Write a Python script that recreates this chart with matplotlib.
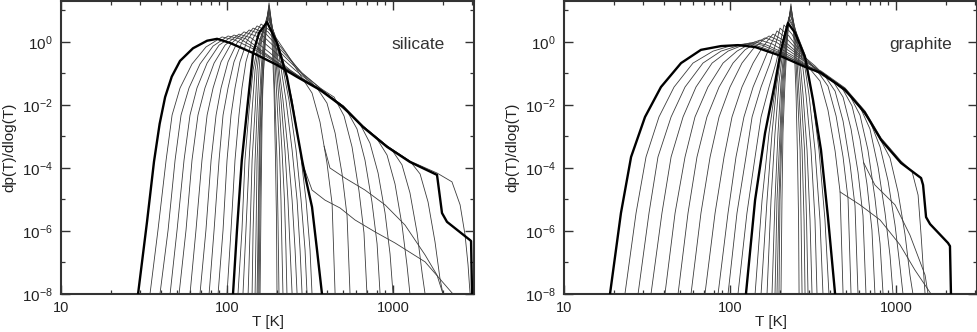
import numpy as np
import matplotlib
matplotlib.use("Agg")
import matplotlib.pyplot as plt

plt.rcParams["font.family"] = ["Liberation Sans", "DejaVu Sans"]
plt.rcParams["mathtext.fontset"] = "custom"
plt.rcParams["mathtext.rm"] = "Liberation Sans"
plt.rcParams["mathtext.default"] = "regular"

# curves as (log10 T [K], log10 dp/dlogT) points

# ---------------- silicate ----------------
sil_thick_broad = [(1.464, -8.0), (1.518, -5.71), (1.560, -3.80), (1.594, -2.60), (1.627, -1.75),
                   (1.667, -1.10), (1.717, -0.60), (1.795, -0.20), (1.880, 0.04), (1.940, 0.10), (2.018, -0.03),
                   (2.157, -0.35), (2.301, -0.73), (2.422, -1.11), (2.560, -1.52), (2.699, -2.06),
                   (2.819, -2.70), (2.964, -3.33), (3.102, -3.81), (3.265, -4.22), (3.295, -5.43),
                   (3.325, -5.71), (3.464, -6.29), (3.470, -6.32), (3.476, -8.0)]
sil_thick_narrow = [(2.036, -8.0), (2.060, -5.97), (2.089, -3.75), (2.127, -1.84), (2.157, -0.35),
                    (2.193, 0.29), (2.241, 0.63), (2.301, -0.03), (2.361, -1.11), (2.398, -2.16),
                    (2.452, -3.75), (2.476, -4.38), (2.512, -5.24), (2.542, -6.60), (2.572, -8.0)]

sil_k1 = [(1.536, -8.0), (1.584, -5.97), (1.633, -3.75), (1.669, -2.32), (1.717, -1.46), (1.789, -0.70),
          (1.873, -0.16), (1.970, 0.16), (2.048, 0.06), (2.169, -0.25), (2.301, -0.67), (2.422, -1.08),
          (2.560, -1.49), (2.699, -2.03), (2.819, -2.67), (2.964, -3.30), (3.102, -3.78), (3.265, -4.16),
          (3.355, -4.44), (3.404, -5.17), (3.434, -6.13), (3.452, -7.08), (3.464, -8.0)]
sil_k2 = [(1.596, -8.0), (1.645, -5.97), (1.687, -3.75), (1.723, -2.32), (1.771, -1.46), (1.837, -0.70),
          (1.916, -0.13), (2.006, 0.19), (2.078, 0.10), (2.187, -0.25), (2.319, -0.70), (2.440, -1.11),
          (2.560, -1.49), (2.699, -2.03), (2.819, -2.67), (2.964, -3.30), (3.102, -3.78), (3.163, -4.19),
          (3.211, -5.08), (3.253, -6.35), (3.283, -7.52), (3.301, -8.0)]
sil_k3 = [(1.657, -8.0), (1.699, -5.97), (1.741, -3.75), (1.777, -2.32), (1.819, -1.46), (1.880, -0.67),
          (1.952, -0.10), (2.042, 0.22), (2.114, 0.10), (2.229, -0.35), (2.349, -0.83), (2.470, -1.24),
          (2.560, -1.49), (2.699, -2.03), (2.819, -2.67), (2.994, -3.43), (3.054, -3.90), (3.102, -4.79),
          (3.145, -6.06), (3.175, -7.33), (3.193, -8.0)]
sil_k4 = [(1.711, -8.0), (1.753, -5.97), (1.789, -3.75), (1.825, -2.32), (1.867, -1.46), (1.922, -0.67),
          (1.988, -0.10), (2.072, 0.25), (2.145, 0.13), (2.259, -0.35), (2.380, -0.89), (2.500, -1.33),
          (2.620, -1.75), (2.741, -2.29), (2.904, -3.08), (2.964, -3.59), (3.012, -4.51), (3.054, -5.81),
          (3.084, -7.08), (3.102, -8.0)]
sil_k5 = [(1.777, -8.0), (1.813, -5.97), (1.849, -3.75), (1.880, -2.32), (1.916, -1.46), (1.964, -0.63),
          (2.024, -0.06), (2.102, 0.32), (2.175, 0.19), (2.289, -0.32), (2.410, -0.89), (2.530, -1.40),
          (2.651, -1.87), (2.801, -2.60), (2.861, -3.21), (2.910, -4.16), (2.952, -5.43), (2.982, -6.73),
          (3.000, -8.0)]
sil_k6 = [(1.837, -8.0), (1.873, -5.97), (1.904, -3.75), (1.934, -2.32), (1.964, -1.46), (2.006, -0.63),
          (2.060, -0.03), (2.133, 0.38), (2.205, 0.25), (2.319, -0.32), (2.440, -0.95), (2.560, -1.46),
          (2.723, -2.19), (2.783, -2.76), (2.831, -3.75), (2.873, -5.08), (2.904, -6.41), (2.922, -8.0)]
sil_k7 = [(1.892, -8.0), (1.922, -5.97), (1.952, -3.75), (1.976, -2.32), (2.006, -1.46), (2.042, -0.63),
          (2.090, 0.0), (2.157, 0.44), (2.229, 0.29), (2.337, -0.32), (2.452, -0.98), (2.560, -1.46),
          (2.645, -1.75), (2.705, -2.35), (2.753, -3.33), (2.795, -4.73), (2.825, -6.06), (2.843, -8.0)]
sil_k8 = [(1.946, -8.0), (1.976, -5.97), (2.000, -3.75), (2.024, -2.32), (2.048, -1.46), (2.078, -0.63),
          (2.120, 0.03), (2.181, 0.51), (2.247, 0.32), (2.349, -0.32), (2.452, -1.02), (2.542, -1.46),
          (2.602, -1.94), (2.651, -2.89), (2.693, -4.19), (2.723, -5.52), (2.741, -8.0)]
sil_k9 = [(2.000, -8.0), (2.024, -5.97), (2.048, -3.75), (2.072, -2.32), (2.090, -1.46), (2.114, -0.63),
          (2.151, 0.06), (2.205, 0.57), (2.271, 0.32), (2.361, -0.38), (2.452, -1.14), (2.512, -1.62),
          (2.560, -2.54), (2.602, -3.84), (2.633, -5.14), (2.651, -8.0)]
sil_n1 = [(2.066, -8.0), (2.090, -5.97), (2.108, -3.75), (2.133, -2.16), (2.157, -0.89), (2.187, -0.10),
          (2.217, 0.38), (2.247, 0.73), (2.289, 0.22), (2.337, -0.57), (2.392, -1.84), (2.440, -3.43),
          (2.476, -5.02), (2.500, -6.60), (2.512, -8.0)]
sil_n2 = [(2.096, -8.0), (2.114, -5.97), (2.133, -3.75), (2.151, -2.16), (2.169, -0.89), (2.193, -0.10),
          (2.217, 0.38), (2.247, 0.79), (2.283, 0.29), (2.325, -0.51), (2.373, -1.84), (2.416, -3.43),
          (2.446, -5.02), (2.470, -6.60), (2.482, -8.0)]
sil_n3 = [(2.127, -8.0), (2.139, -5.97), (2.151, -3.75), (2.169, -2.16), (2.181, -0.89), (2.199, -0.10),
          (2.223, 0.44), (2.247, 0.86), (2.277, 0.38), (2.313, -0.41), (2.355, -1.84), (2.392, -3.43),
          (2.422, -5.02), (2.440, -6.60), (2.452, -8.0)]
sil_n4 = [(2.151, -8.0), (2.157, -5.97), (2.169, -3.75), (2.181, -2.16), (2.193, -0.89), (2.205, -0.10),
          (2.223, 0.44), (2.247, 0.92), (2.271, 0.44), (2.301, -0.32), (2.337, -1.84), (2.367, -3.43),
          (2.392, -5.02), (2.410, -6.60), (2.422, -8.0)]
sil_n5 = [(2.169, -8.0), (2.175, -5.97), (2.181, -3.75), (2.193, -2.16), (2.205, -0.89), (2.217, -0.10),
          (2.229, 0.44), (2.250, 0.98), (2.271, 0.54), (2.295, -0.25), (2.325, -1.84), (2.349, -3.43),
          (2.367, -5.02), (2.380, -6.60), (2.392, -8.0)]
sil_n6 = [(2.181, -8.0), (2.187, -5.97), (2.193, -3.75), (2.199, -2.16), (2.211, -0.89), (2.223, -0.10),
          (2.235, 0.44), (2.250, 1.05), (2.268, 0.63), (2.289, -0.19), (2.313, -1.84), (2.331, -3.43),
          (2.346, -5.02), (2.355, -6.60), (2.361, -8.0)]
sil_n7 = [(2.187, -8.0), (2.193, -5.02), (2.199, -3.11), (2.205, -1.84), (2.217, -0.57), (2.229, 0.22),
          (2.241, 0.70), (2.253, 1.11), (2.265, 0.70), (2.283, -0.10), (2.301, -1.84), (2.316, -3.43),
          (2.325, -5.02), (2.331, -6.60), (2.337, -8.0)]
sil_n8 = [(2.193, -8.0), (2.199, -5.02), (2.205, -3.11), (2.211, -1.84), (2.223, -0.57), (2.232, 0.22),
          (2.244, 0.76), (2.253, 1.17), (2.265, 0.76), (2.277, 0.0), (2.289, -1.84), (2.301, -3.75),
          (2.307, -5.65), (2.313, -8.0)]
sil_spike = [(2.199, -8.0), (2.205, -5.02), (2.211, -2.48), (2.217, -1.21), (2.229, -0.10), (2.241, 0.70),
             (2.253, 1.24), (2.262, 0.86), (2.271, 0.06), (2.283, -1.52), (2.292, -3.75), (2.298, -5.65),
             (2.301, -8.0)]
# long low tails below the power-law envelope
sil_tail_a = [(2.458, -3.91), (2.512, -4.70), (2.590, -5.02), (2.681, -5.27), (2.771, -5.65),
              (2.892, -6.03), (3.012, -6.38), (3.193, -6.98), (3.361, -8.0)]
sil_tail_b = [(2.585, -3.31), (2.620, -4.0), (2.711, -4.32), (2.831, -4.70), (2.952, -5.17),
              (3.072, -5.81), (3.193, -6.76), (3.265, -7.40), (3.301, -8.0)]

# ---------------- graphite ----------------
gra_thick_broad = [(1.277, -8.0), (1.343, -5.43), (1.404, -3.65), (1.488, -2.38), (1.584, -1.43),
                   (1.705, -0.67), (1.825, -0.25), (1.946, -0.13), (2.048, -0.10), (2.151, -0.16),
                   (2.289, -0.41), (2.452, -0.79), (2.548, -0.98), (2.693, -1.52), (2.813, -2.25),
                   (2.910, -3.11), (3.030, -3.84), (3.151, -4.32), (3.163, -4.54), (3.181, -5.56),
                   (3.205, -5.78), (3.313, -6.38), (3.325, -6.48), (3.331, -8.0)]
gra_thick_narrow = [(2.096, -8.0), (2.151, -5.02), (2.211, -2.89), (2.271, -1.30), (2.307, -0.25),
                    (2.349, 0.60), (2.392, 0.29), (2.452, -0.48), (2.500, -1.84), (2.548, -3.43),
                    (2.590, -5.56), (2.633, -8.0)]

gra_k1 = [(1.367, -8.0), (1.434, -5.43), (1.494, -3.65), (1.572, -2.38), (1.663, -1.43), (1.777, -0.67),
          (1.898, -0.29), (2.000, -0.13), (2.090, -0.06), (2.151, -0.10), (2.289, -0.35), (2.452, -0.73),
          (2.548, -0.92), (2.693, -1.46), (2.813, -2.19), (2.910, -3.05), (3.030, -3.78), (3.096, -4.10),
          (3.133, -4.86), (3.151, -6.13), (3.163, -7.08), (3.175, -8.0)]
gra_k2 = [(1.446, -8.0), (1.512, -5.43), (1.566, -3.65), (1.645, -2.38), (1.729, -1.43), (1.837, -0.67),
          (1.946, -0.29), (2.042, -0.13), (2.120, -0.03), (2.193, -0.10), (2.331, -0.41), (2.452, -0.76),
          (2.548, -0.95), (2.693, -1.49), (2.813, -2.22), (2.904, -3.08), (2.964, -3.68), (3.012, -4.76),
          (3.054, -6.10), (3.084, -7.40), (3.102, -8.0)]
gra_k3 = [(1.524, -8.0), (1.590, -5.43), (1.645, -3.65), (1.717, -2.38), (1.795, -1.43), (1.892, -0.67),
          (1.988, -0.29), (2.078, -0.10), (2.151, 0.0), (2.223, -0.10), (2.361, -0.44), (2.482, -0.83),
          (2.602, -1.17), (2.723, -1.68), (2.843, -2.51), (2.904, -3.33), (2.952, -4.41), (2.994, -5.81),
          (3.024, -7.14), (3.042, -8.0)]
gra_k4 = [(1.608, -8.0), (1.669, -5.43), (1.729, -3.65), (1.789, -2.38), (1.867, -1.43), (1.958, -0.67),
          (2.042, -0.29), (2.120, -0.06), (2.181, 0.06), (2.253, -0.06), (2.380, -0.44), (2.494, -0.86),
          (2.602, -1.21), (2.693, -1.52), (2.783, -2.06), (2.843, -2.76), (2.892, -3.97), (2.934, -5.43),
          (2.964, -6.79), (2.982, -8.0)]
gra_k5 = [(1.687, -8.0), (1.747, -5.43), (1.801, -3.65), (1.861, -2.38), (1.934, -1.43), (2.018, -0.67),
          (2.090, -0.25), (2.157, -0.03), (2.211, 0.13), (2.277, 0.0), (2.392, -0.41), (2.512, -0.83),
          (2.633, -1.30), (2.723, -1.71), (2.783, -2.32), (2.831, -3.43), (2.873, -4.95), (2.904, -6.41),
          (2.922, -8.0)]
gra_k6 = [(1.765, -8.0), (1.825, -5.43), (1.880, -3.65), (1.934, -2.38), (2.000, -1.43), (2.072, -0.67),
          (2.139, -0.22), (2.193, 0.03), (2.235, 0.19), (2.301, 0.03), (2.410, -0.41), (2.530, -0.89),
          (2.675, -1.46), (2.735, -2.03), (2.783, -3.08), (2.825, -4.51), (2.855, -5.97), (2.873, -8.0)]
gra_k7 = [(1.849, -8.0), (1.910, -5.43), (1.964, -3.65), (2.012, -2.38), (2.072, -1.43), (2.139, -0.67),
          (2.193, -0.19), (2.229, 0.06), (2.259, 0.25), (2.319, 0.06), (2.422, -0.41), (2.530, -0.89),
          (2.620, -1.24), (2.681, -1.75), (2.729, -2.76), (2.771, -4.13), (2.801, -5.52), (2.819, -8.0)]
gra_k8 = [(1.928, -8.0), (1.988, -5.43), (2.036, -3.65), (2.084, -2.38), (2.139, -1.43), (2.199, -0.67),
          (2.241, -0.13), (2.265, 0.13), (2.283, 0.35), (2.337, 0.13), (2.434, -0.41), (2.512, -0.76),
          (2.572, -1.08), (2.633, -1.56), (2.681, -2.51), (2.723, -3.87), (2.753, -5.21), (2.771, -8.0)]
gra_k9 = [(1.988, -8.0), (2.042, -5.43), (2.096, -3.65), (2.133, -2.38), (2.187, -1.43), (2.241, -0.67),
          (2.271, -0.13), (2.289, 0.19), (2.301, 0.44), (2.355, 0.19), (2.440, -0.41), (2.530, -0.95),
          (2.590, -1.40), (2.639, -2.35), (2.681, -3.65), (2.711, -4.98), (2.729, -8.0)]
gra_k10 = [(2.048, -8.0), (2.102, -5.43), (2.151, -3.65), (2.187, -2.38), (2.235, -1.43), (2.277, -0.67),
           (2.301, -0.10), (2.313, 0.22), (2.325, 0.54), (2.373, 0.25), (2.440, -0.41), (2.482, -0.86),
           (2.542, -1.24), (2.590, -2.16), (2.633, -3.46), (2.663, -4.76), (2.681, -8.0)]
gra_n1 = [(2.151, -8.0), (2.193, -5.02), (2.235, -2.89), (2.277, -1.30), (2.307, -0.25), (2.331, 0.29),
          (2.355, 0.70), (2.398, 0.32), (2.452, -0.41), (2.494, -1.68), (2.536, -3.43), (2.572, -5.65),
          (2.596, -8.0)]
gra_n2 = [(2.187, -8.0), (2.223, -5.02), (2.253, -2.89), (2.283, -1.30), (2.313, -0.25), (2.337, 0.38),
          (2.355, 0.79), (2.392, 0.38), (2.440, -0.41), (2.476, -1.68), (2.512, -3.43), (2.542, -5.65),
          (2.560, -8.0)]
gra_n3 = [(2.223, -8.0), (2.247, -5.02), (2.271, -2.89), (2.295, -1.30), (2.319, -0.25), (2.337, 0.38),
          (2.361, 0.86), (2.392, 0.44), (2.428, -0.32), (2.458, -1.68), (2.488, -3.43), (2.512, -5.65),
          (2.524, -8.0)]
gra_n4 = [(2.253, -8.0), (2.271, -5.02), (2.289, -2.89), (2.307, -1.30), (2.325, -0.25), (2.343, 0.44),
          (2.361, 0.92), (2.386, 0.51), (2.416, -0.25), (2.440, -1.68), (2.464, -3.43), (2.482, -5.65),
          (2.494, -8.0)]
gra_n5 = [(2.271, -8.0), (2.283, -5.02), (2.301, -2.89), (2.313, -1.30), (2.331, -0.25), (2.346, 0.44),
          (2.364, 0.98), (2.386, 0.57), (2.407, -0.19), (2.428, -1.68), (2.449, -3.43), (2.461, -5.65),
          (2.470, -8.0)]
gra_n6 = [(2.283, -8.0), (2.295, -5.02), (2.307, -2.89), (2.319, -1.30), (2.337, -0.10), (2.349, 0.54),
          (2.367, 1.08), (2.383, 0.63), (2.398, -0.13), (2.416, -1.68), (2.434, -3.43), (2.446, -5.65),
          (2.452, -8.0)]
gra_n7 = [(2.295, -8.0), (2.301, -5.02), (2.313, -2.89), (2.325, -1.30), (2.340, -0.10), (2.352, 0.54),
          (2.367, 1.14), (2.380, 0.70), (2.392, -0.06), (2.407, -1.68), (2.422, -3.43), (2.428, -5.65),
          (2.434, -8.0)]
gra_spike = [(2.307, -8.0), (2.313, -5.02), (2.319, -2.89), (2.331, -1.30), (2.343, -0.10), (2.355, 0.70),
             (2.367, 1.21), (2.376, 0.76), (2.386, 0.0), (2.398, -1.68), (2.407, -3.75), (2.413, -5.65),
             (2.416, -8.0)]
gra_tail_a = [(2.663, -4.76), (2.783, -5.17), (2.904, -5.65), (3.024, -6.44), (3.114, -7.24), (3.211, -8.0)]
gra_tail_b = [(2.805, -3.83), (2.873, -4.54), (2.994, -5.17), (3.084, -6.13), (3.175, -7.40), (3.193, -8.0)]

panels = [
    ("silicate",
     [sil_k1, sil_k2, sil_k3, sil_k4, sil_k5, sil_k6, sil_k7, sil_k8, sil_k9,
      sil_n1, sil_n2, sil_n3, sil_n4, sil_n5, sil_n6, sil_n7, sil_n8, sil_spike,
      sil_tail_a, sil_tail_b],
     [sil_thick_broad, sil_thick_narrow]),
    ("graphite",
     [gra_k1, gra_k2, gra_k3, gra_k4, gra_k5, gra_k6, gra_k7, gra_k8, gra_k9, gra_k10,
      gra_n1, gra_n2, gra_n3, gra_n4, gra_n5, gra_n6, gra_n7, gra_spike,
      gra_tail_a, gra_tail_b],
     [gra_thick_broad, gra_thick_narrow]),
]

x_major = [10, 100, 1000]
x_major_labels = ["10", "100", "1000"]
y_major = [1e0, 1e-2, 1e-4, 1e-6, 1e-8]
y_major_labels = [r"$10^{0}$", r"$10^{-2}$", r"$10^{-4}$", r"$10^{-6}$", r"$10^{-8}$"]
y_minor = [1e1, 1e-1, 1e-3, 1e-5, 1e-7]
x_minor = [m * d for d in (10, 100, 1000) for m in range(2, 10) if m * d < 3100]

fig = plt.figure(figsize=(9.78, 3.32), dpi=100)
axes = [fig.add_axes([0.0624, 0.1145, 0.4223, 0.8825]),
        fig.add_axes([0.5767, 0.1145, 0.4223, 0.8825])]

edge = "#333333"
for ax, (name, thin, thick) in zip(axes, panels):
    for c in thin:
        lt, lp = np.array(c).T
        ax.plot(10 ** lt, 10 ** lp, color="#3c3c3c", lw=0.6, zorder=2)
    for c in thick:
        lt, lp = np.array(c).T
        ax.plot(10 ** lt, 10 ** lp, color="black", lw=1.7, zorder=3)

    ax.set_xscale("log")
    ax.set_yscale("log")
    ax.set_xlim(10, 3076)
    ax.set_ylim(1e-8, 20)

    ax.set_xticks(x_major)
    ax.set_xticklabels(x_major_labels)
    ax.set_xticks(x_minor, minor=True)
    ax.set_yticks(y_major)
    ax.set_yticklabels(y_major_labels)
    ax.set_yticks(y_minor, minor=True)
    ax.xaxis.set_minor_formatter(plt.NullFormatter())
    ax.yaxis.set_minor_formatter(plt.NullFormatter())

    ax.tick_params(which="both", direction="in", top=True, right=True,
                   color=edge, labelcolor="#222222")
    ax.tick_params(axis="x", which="major", labelsize=10.5, pad=5)
    ax.tick_params(axis="y", which="major", labelsize=11, pad=6)
    ax.tick_params(which="major", length=6.5, width=1.0)
    ax.tick_params(which="minor", length=3.2, width=0.9)
    for s in ax.spines.values():
        s.set_linewidth(1.5)
        s.set_color(edge)

    ax.set_xlabel("T [K]", fontsize=11, color="#222222", labelpad=0)
    ax.set_ylabel("dp(T)/dlog(T)", fontsize=11, color="#222222", labelpad=4)
    ax.text(0.864, 0.85, name, transform=ax.transAxes, ha="center", va="center",
            fontsize=12.5, color="#333333")

fig.savefig("out.png", dpi=100)
